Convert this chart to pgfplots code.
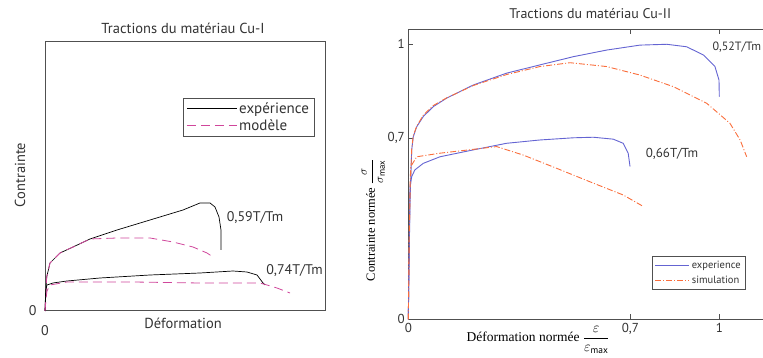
\documentclass[border=0pt]{standalone}
\usepackage{pgfplots}
\pgfplotsset{compat=1.18}
\usepackage{fontspec}
\setmainfont{PT Sans}
\newfontfamily\seriffont{Liberation Serif}
\definecolor{modelpink}{RGB}{208,70,155}
\definecolor{expblue}{RGB}{100,100,210}
\definecolor{simorange}{RGB}{250,110,60}
\definecolor{frame}{RGB}{80,80,80}
\begin{document}
\begin{tikzpicture}[x=1pt,y=1pt]
\useasboundingbox (0,0) rectangle (763,358);
% ---------------- Left panel ----------------
\begin{axis}[
  at={(45pt,47pt)}, anchor=south west,
  scale only axis, width=280pt, height=269pt,
  xmin=0, xmax=280, ymin=0, ymax=269,
  axis line style={frame, line width=1pt},
  xtick={0}, ytick={0}, xticklabels={0}, yticklabels={0},
  major tick length=0pt,
  /pgf/number format/assume math mode=true,
  ticklabel style={font=\fontsize{14}{14}\selectfont, text=black!80},
  yticklabel style={xshift=-5pt},
  xticklabel style={yshift=-11pt},
  title={Tractions du matériau Cu-I},
  title style={at={(axis description cs:0.493,1.03)}, anchor=center, font=\fontsize{14.5}{14.5}\selectfont, text=black!80},
  xlabel={Déformation},
  xlabel style={at={(axis description cs:0.493,-0.045)}, anchor=center, font=\fontsize{14.5}{14.5}\selectfont, text=black!80},
  ylabel={Contrainte},
  ylabel style={at={(axis description cs:-0.089,0.506)}, anchor=center, font=\fontsize{14.5}{14.5}\selectfont, text=black!80},
  legend style={at={(axis description cs:0.493,0.792)}, anchor=north west,
    draw=frame, line width=0.8pt, font=\fontsize{15}{15}\selectfont,
    inner xsep=3pt, inner ysep=2pt, row sep=1pt, cells={anchor=west, text=black!80}},
  legend image code/.code={\draw[#1, line width=0.8pt] (0pt,0pt) -- (50pt,0pt);},
  legend cell align=left,
  clip=false,
]
\addplot[black, line width=0.7pt] coordinates {
(0,0) (1.7,34) (5,48) (15,58) (28,64) (45,72) (72,81) (105,91) (138,101) (155,108) (165,108) (170,104) (174,94) (176,81) (176,61)};
\addlegendentry{expérience}
\addplot[modelpink, line width=0.8pt, dash pattern=on 9pt off 5pt] coordinates {
(0,0) (1.7,34) (5,48) (15,58) (28,64) (45,72) (72,73) (105,73) (128,69) (148,64) (162,58) (168,54)};
\addlegendentry{modèle}
\addplot[black, line width=0.7pt, forget plot] coordinates {
(0,0) (0.7,21) (2,26) (8,28) (22,30) (55,33) (105,36) (155,38) (188,40) (202,39) (212,36) (218,28) (220,26)};
\addplot[modelpink, line width=0.8pt, dash pattern=on 9pt off 5pt, forget plot] coordinates {
(0,0) (1,12) (2,20) (5,26) (22,29) (88,29) (155,28) (215,28) (222,26) (232,23) (245,18)};
\node[font=\fontsize{14}{14}\selectfont, text=black!80] at (axis cs:210,93) {0,59T/Tm};
\node[font=\fontsize{14}{14}\selectfont, text=black!80] at (axis cs:249.5,40) {0,74T/Tm};
\end{axis}
% ---------------- Right panel ----------------
\begin{axis}[
  at={(408.3pt,38.7pt)}, anchor=south west,
  scale only axis, width=354.7pt, height=290pt,
  xmin=0, xmax=1.1405, ymin=0, ymax=1.0545,
  axis x line*=box, axis y line*=left,
  axis line style={frame, line width=0.8pt},
  xtick={0,0.714,1}, xticklabels={0,{0,7},1},
  ytick={0,0.658,1}, yticklabels={0,{0,7},1},
  tick style={frame, line width=0.6pt},
  major tick length=5pt,
  tick align=inside,
  /pgf/number format/assume math mode=true,
  ticklabel style={font=\fontsize{13}{13}\selectfont, text=black!80},
  title={Tractions du matériau Cu-II},
  title style={at={(axis description cs:0.513,1.035)}, anchor=center, font=\fontsize{14}{14}\selectfont, text=black!80},
  xlabel={\seriffont Déformation normée $\displaystyle\frac{\varepsilon}{\varepsilon_{\max}}$},
  xlabel style={at={(axis description cs:0.366,-0.078)}, anchor=base, font=\fontsize{13.5}{13.5}\selectfont, inner sep=0pt},
  ylabel={\seriffont Contrainte normée $\displaystyle\frac{\sigma}{\sigma_{\max}}$},
  ylabel style={at={(axis description cs:-0.094,0.342)}, anchor=base, font=\fontsize{12.5}{12.5}\selectfont, inner sep=0pt},
  legend style={at={(axis description cs:0.686,0.218)}, anchor=north west,
    draw=frame, line width=0.8pt, font=\fontsize{10.5}{10.5}\selectfont,
    inner xsep=3pt, inner ysep=2.5pt, row sep=2pt, cells={anchor=west, text=black!80}},
  legend image code/.code={\draw[#1, line width=0.8pt] (0pt,0pt) -- (34pt,0pt);},
  legend cell align=left,
  clip=false,
]
\addplot[expblue, line width=0.9pt] coordinates {
(0,0) (0.0055,0.434) (0.011,0.616) (0.016,0.664) (0.027,0.700) (0.048,0.737) (0.080,0.773) (0.123,0.804) (0.209,0.852) (0.316,0.895) (0.423,0.925) (0.531,0.955) (0.638,0.979) (0.745,0.997) (0.831,1.0) (0.895,0.991) (0.949,0.961) (0.986,0.919) (0.999,0.870) (1.0,0.810)};
\addlegendentry{experience}
\addplot[simorange, line width=0.9pt, dash pattern=on 6pt off 2pt on 1pt off 2pt] coordinates {
(0,0) (0.003,0.3) (0.0055,0.45) (0.011,0.62) (0.016,0.668) (0.027,0.702) (0.048,0.742) (0.080,0.777) (0.123,0.805) (0.209,0.850) (0.316,0.890) (0.423,0.919) (0.520,0.933) (0.638,0.919) (0.745,0.888) (0.852,0.846) (0.960,0.785) (1.034,0.713) (1.067,0.652) (1.088,0.591)};
\addlegendentry{simulation}
\addplot[expblue, line width=0.9pt, forget plot] coordinates {
(0,0) (0.0055,0.482) (0.011,0.519) (0.021,0.543) (0.048,0.567) (0.102,0.591) (0.209,0.616) (0.316,0.640) (0.423,0.652) (0.531,0.660) (0.595,0.662) (0.659,0.655) (0.691,0.640) (0.707,0.604) (0.713,0.555)};
\addplot[simorange, line width=0.9pt, dash pattern=on 6pt off 2pt on 1pt off 2pt, forget plot] coordinates {
(0,0) (0.003,0.3) (0.006,0.5) (0.0077,0.555) (0.027,0.591) (0.102,0.604) (0.209,0.618) (0.284,0.628) (0.370,0.597) (0.477,0.549) (0.584,0.500) (0.691,0.452) (0.756,0.410)};
\node[font=\fontsize{12}{12}\selectfont, text=black!80, anchor=east, inner sep=1pt] at (axis cs:1.138,0.990) {0,52T/Tm};
\node[font=\fontsize{13}{13}\selectfont, text=black!80] at (axis cs:0.848,0.601) {0,66T/Tm};
\end{axis}
\end{tikzpicture}
\end{document}
